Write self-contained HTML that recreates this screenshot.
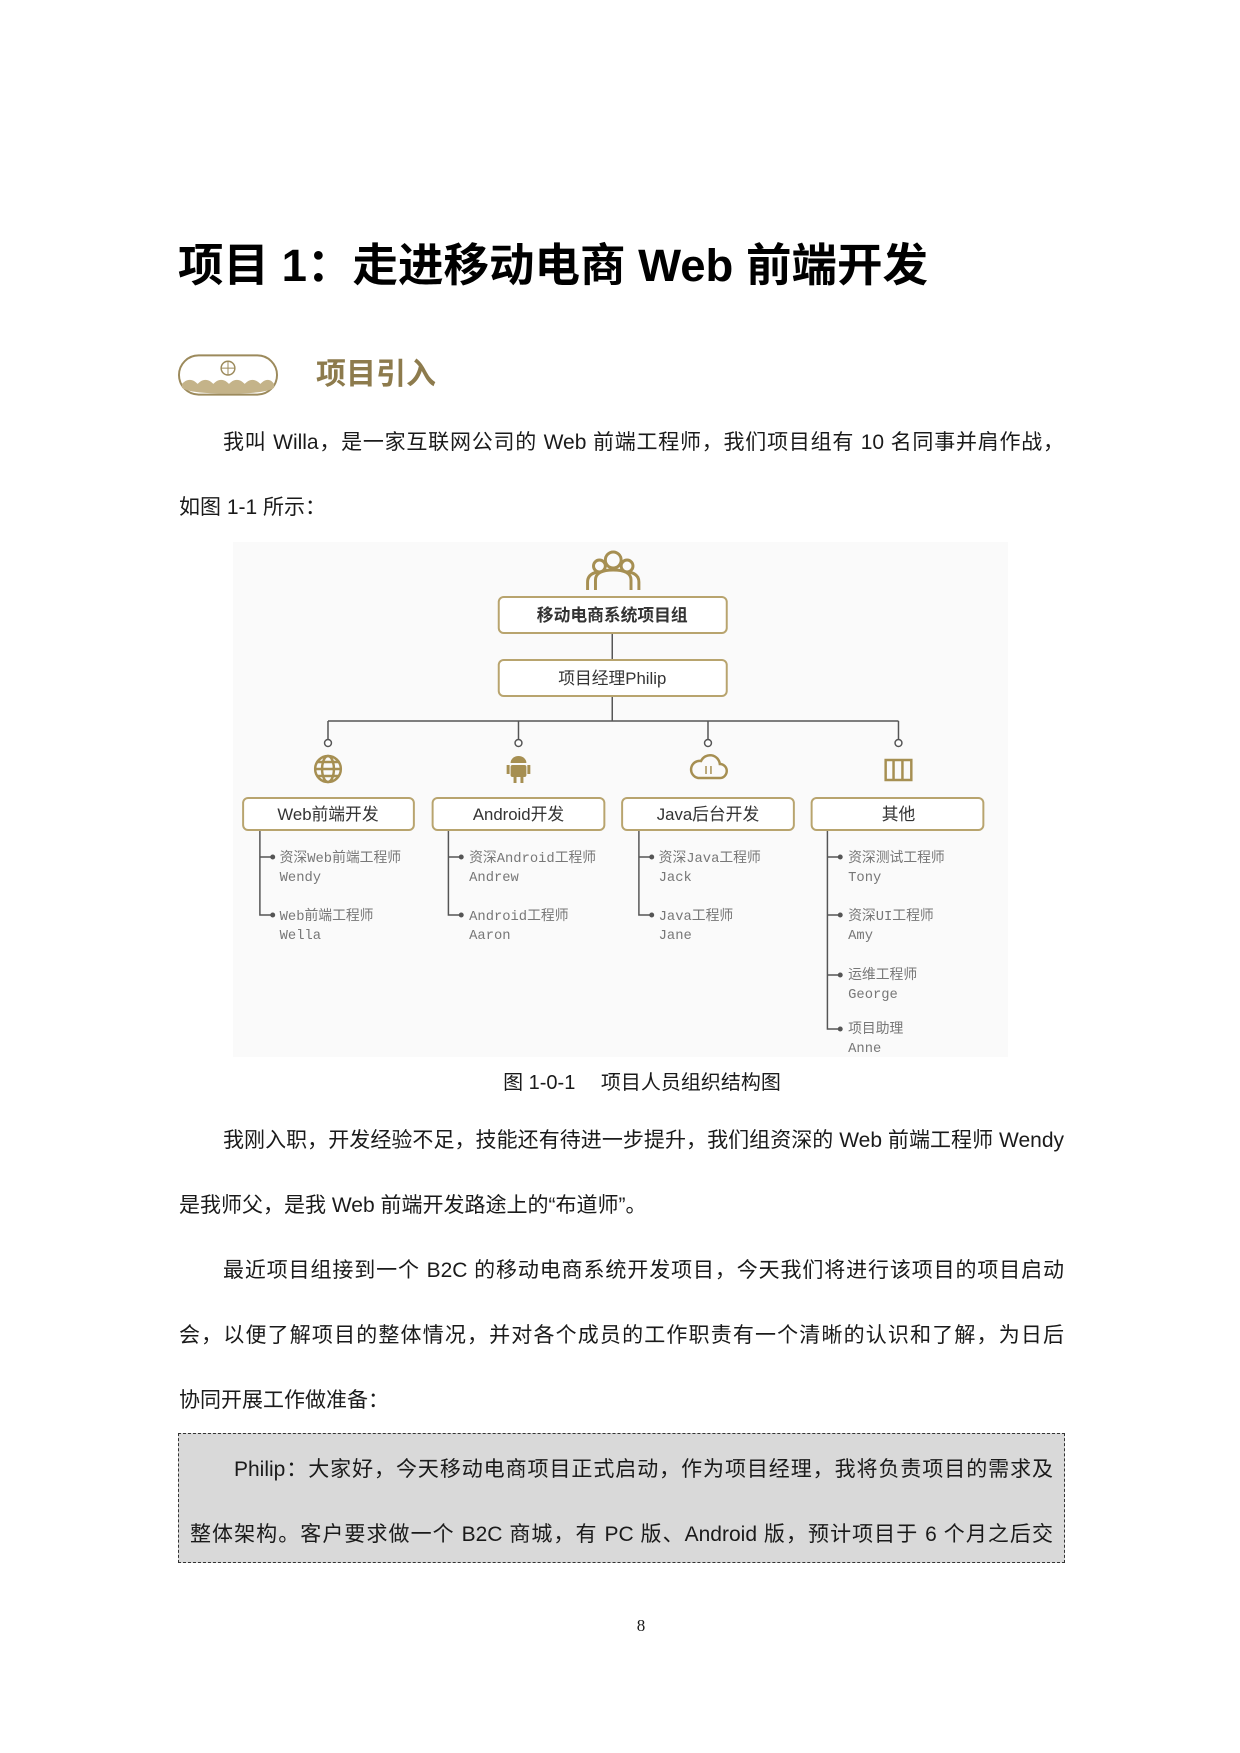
<!DOCTYPE html>
<html><head><meta charset="utf-8"><style>
body{margin:0;background:#fff}
.pg{position:relative;width:1240px;height:1753px;overflow:hidden;font-family:"Liberation Sans","Noto Sans CJK SC",sans-serif;color:#1a1a1a}
.a{position:absolute;white-space:nowrap}
.ln{position:absolute;left:179px;width:885px;font-size:21px;line-height:30px;text-align:justify;text-align-last:justify;white-space:nowrap}
.ln.l{text-align-last:left}
.ind{padding-left:44px;box-sizing:border-box}
</style></head><body><div class="pg">
<div class="a" style="left:178px;top:238px;font-size:45.5px;font-weight:bold;line-height:56px;color:#000">项目 1：走进移动电商 Web 前端开发</div>
<svg class="a" style="left:178px;top:354px" width="100" height="42" viewBox="0 0 102 42">
<rect x="1" y="1" width="100" height="40" rx="20" fill="#fff" stroke="#9c8a5c" stroke-width="2"/>
<path d="M4 30 Q12 22 20 30 Q28 22 36 30 Q44 22 52 30 Q60 22 68 30 Q76 22 84 30 Q92 22 98 30 L98 34 Q90 40 51 40 Q12 40 4 34Z" fill="#c4b389"/>
<circle cx="51" cy="14" r="7" fill="none" stroke="#9c8a5c" stroke-width="1.5"/><path d="M44 14h14M51 7v14" stroke="#9c8a5c"/>
</svg>
<div class="a" style="left:316px;top:357px;font-size:30px;font-weight:bold;color:#8d7b4d;line-height:36px">项目引入</div>
<div class="ln ind" style="top:428px">我叫 Willa，是一家互联网公司的 Web 前端工程师，我们项目组有 10 名同事并肩作战，</div>
<div class="ln l" style="top:493px">如图 1-1 所示：</div>

<div class="a" style="left:233px;top:542px;width:775px;height:515px;background:#fafafa"></div>
<svg class="a" style="left:0;top:0" width="1240" height="1100" font-family="Liberation Sans,Noto Sans CJK SC,sans-serif">
<g transform="translate(4.26,0) scale(0.987,1)">
<g fill="none" stroke="#a68f52" stroke-width="3">
<circle cx="617" cy="560" r="8"/><circle cx="603" cy="566" r="6"/><circle cx="631" cy="566" r="6"/>
<path d="M599 590v-10q0-10 18-10q18 0 18 10v10M591 590v-8q0-8 10-10M643 590v-8q0-8-10-10"/>
</g>
<g stroke="#555" stroke-width="1.5" fill="none">
<path d="M616 633v26M616 696v25M328 721h578M328 721v18M521 721v18M713 721v18M906 721v18"/>
<circle cx="328" cy="743" r="3.5" fill="#fff"/><circle cx="521" cy="743" r="3.5" fill="#fff"/><circle cx="713" cy="743" r="3.5" fill="#fff"/><circle cx="906" cy="743" r="3.5" fill="#fff"/>
<path d="M259 829v86h12M259 857h12M450 829v86h12M450 857h12M643 829v86h12M643 857h12M834 829v200h12M834 857h12M834 915h12M834 975h12"/>
</g>
<g fill="#555"><circle cx="272" cy="857" r="2.5"/><circle cx="272" cy="915" r="2.5"/><circle cx="463" cy="857" r="2.5"/><circle cx="463" cy="915" r="2.5"/><circle cx="656" cy="857" r="2.5"/><circle cx="656" cy="915" r="2.5"/><circle cx="847" cy="857" r="2.5"/><circle cx="847" cy="915" r="2.5"/><circle cx="847" cy="975" r="2.5"/><circle cx="847" cy="1029" r="2.5"/></g>
<g fill="#fff" stroke="#b8a46e" stroke-width="2">
<rect x="501" y="597" width="231" height="36" rx="5"/><rect x="501" y="660" width="231" height="36" rx="5"/>
<rect x="242" y="798" width="173" height="32" rx="5"/><rect x="434" y="798" width="174" height="32" rx="5"/><rect x="626" y="798" width="174" height="32" rx="5"/><rect x="818" y="798" width="174" height="32" rx="5"/>
</g>
<g fill="none" stroke="#a68f52" stroke-width="2.5">
<circle cx="328" cy="769" r="13"/><ellipse cx="328" cy="769" rx="6" ry="13"/><path d="M315 769h26M317 762h22M317 776h22"/>
<path d="M703 778h22a7 7 0 0 0 0-14a10 10 0 0 0-19-3a8 8 0 0 0-3 17z"/><path d="M711 774v-8M716 766v8" stroke-width="1.5"/>
<rect x="893" y="760" width="26" height="20"/><path d="M901 760v20M910 760v20"/>
</g>
<g fill="#a68f52"><rect x="513" y="765" width="16" height="12" rx="2"/><path d="M513 763a8 7 0 0 1 16 0z"/><rect x="509" y="765" width="3" height="9"/><rect x="530" y="765" width="3" height="9"/><rect x="516" y="777" width="3" height="6"/><rect x="523" y="777" width="3" height="6"/></g>
<g font-size="17" fill="#333" text-anchor="middle">
<text x="616" y="621" font-weight="bold">移动电商系统项目组</text>
<text x="616" y="684">项目经理Philip</text>
<text x="328" y="820">Web前端开发</text><text x="521" y="820">Android开发</text><text x="713" y="820">Java后台开发</text><text x="906" y="820">其他</text>
</g>
<g font-size="14" fill="#777" font-family="Liberation Mono,Noto Sans CJK SC,monospace">
<text x="279" y="862">资深Web前端工程师</text><text x="279" y="881">Wendy</text><text x="279" y="920">Web前端工程师</text><text x="279" y="939">Wella</text>
<text x="471" y="862">资深Android工程师</text><text x="471" y="881">Andrew</text><text x="471" y="920">Android工程师</text><text x="471" y="939">Aaron</text>
<text x="663" y="862">资深Java工程师</text><text x="663" y="881">Jack</text><text x="663" y="920">Java工程师</text><text x="663" y="939">Jane</text>
<text x="855" y="862">资深测试工程师</text><text x="855" y="881">Tony</text><text x="855" y="920">资深UI工程师</text><text x="855" y="939">Amy</text>
<text x="855" y="979">运维工程师</text><text x="855" y="998">George</text><text x="855" y="1033">项目助理</text><text x="855" y="1052">Anne</text>
</g>
</g>
</svg>
<div class="a" style="left:0;width:1284px;text-align:center;top:1070px;font-size:20px;line-height:26px">图 1-0-1　 项目人员组织结构图</div>
<div class="ln ind" style="top:1126px">我刚入职，开发经验不足，技能还有待进一步提升，我们组资深的 Web 前端工程师 Wendy</div>
<div class="ln l" style="top:1191px">是我师父，是我 Web 前端开发路途上的“布道师”。</div>
<div class="ln ind" style="top:1256px">最近项目组接到一个 B2C 的移动电商系统开发项目，今天我们将进行该项目的项目启动</div>
<div class="ln" style="top:1321px">会，以便了解项目的整体情况，并对各个成员的工作职责有一个清晰的认识和了解，为日后</div>
<div class="ln l" style="top:1386px">协同开展工作做准备：</div>
<div class="a" style="left:178px;top:1433px;width:887px;height:130px;background:#d9d9d9;border:1px dashed #333;box-sizing:border-box"></div>
<div class="ln ind" style="left:190px;width:863px;top:1455px;padding-left:44px">Philip：大家好，今天移动电商项目正式启动，作为项目经理，我将负责项目的需求及</div>
<div class="ln" style="left:190px;width:863px;top:1520px">整体架构。客户要求做一个 B2C 商城，有 PC 版、Android 版，预计项目于 6 个月之后交</div>
<div class="a" style="left:0;width:1282px;text-align:center;top:1616px;font-size:17px;font-family:'Liberation Serif',serif">8</div>
</div></body></html>
